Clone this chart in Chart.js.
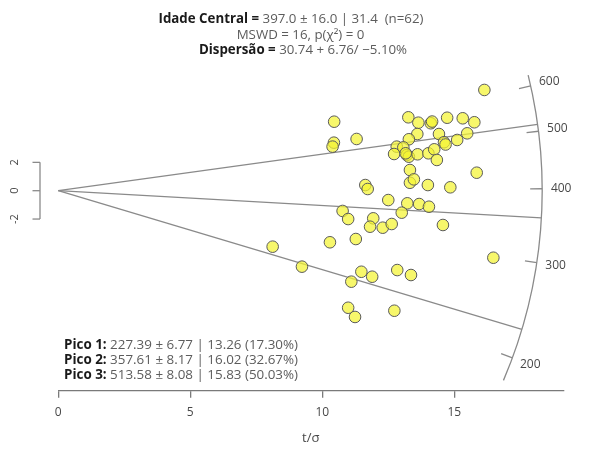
<!DOCTYPE html>
<html lang="pt">
<head>
<meta charset="utf-8">
<script src="https://cdn.jsdelivr.net/npm/chart.js@4.4.1/dist/chart.umd.min.js"></script>
<style>
  body { margin: 0; background: #fff; }
</style>
</head>
<body>
<canvas id="radial" width="590" height="450"></canvas>
<script>
// Valores lidos do gráfico radial (t/σ no eixo x, estimativa padronizada no eixo y)
const idadeCentral = 397.0;
const picos = [227.39, 357.61, 513.58];

const tSigma = [
  16.14, 10.45, 13.26, 13.64, 14.11, 14.16, 14.73, 15.32, 15.76, 11.30,
  10.44, 10.39, 13.60, 14.42, 13.28, 14.61, 14.67, 15.49, 15.11, 12.82,
  13.07, 12.72, 13.20, 13.28, 13.61, 14.02, 14.24, 14.34, 13.32, 13.32,
  13.47, 14.00, 14.85, 15.85, 11.63, 11.72, 12.50, 13.22, 13.67, 14.04,
  13.01, 10.77, 10.98, 11.93, 11.81, 12.29, 12.63, 14.57, 10.29, 11.27,
  8.12, 16.48, 9.23, 11.48, 11.89, 11.10, 12.84, 13.36, 10.98, 11.24,
  12.73, 13.16
];
const zPadrao = [
  7.11, 4.87, 5.18, 4.80, 4.76, 4.88, 5.15, 5.11, 4.83, 3.65,
  3.39, 3.11, 4.00, 4.00, 3.63, 3.42, 3.26, 4.05, 3.58, 3.11,
  3.06, 2.59, 2.52, 2.40, 2.57, 2.64, 2.92, 2.17, 1.46, 0.56,
  0.80, 0.40, 0.24, 1.27, 0.40, 0.12, -0.66, -0.89, -0.94, -1.13,
  -1.55, -1.43, -2.00, -1.95, -2.54, -2.61, -2.35, -2.42, -3.64, -3.41,
  -3.95, -4.73, -5.36, -5.72, -6.07, -6.42, -5.60, -5.95, -8.26, -8.91,
  -8.47, 2.64
];

const ticksX = [0, 5, 10, 15];
const ticksY = [-2, 0, 2];
const ticksArco = [200, 300, 400, 500, 600];
const limitesArco = [179.5, 628];
const raioArco = 18.33; // em unidades de t/σ

const titulo = [
  [['Idade Central = ', true], ['397.0 ± 16.0 | 31.4  (n=62)', false]],
  [['MSWD = 16, p(χ²) = 0', false]],
  [['Dispersão = ', true], ['30.74 + 6.76/ −5.10%', false]]
];
const legendaPicos = [
  [['Pico 1: ', true], ['227.39 ± 6.77 | 13.26 (17.30%)', false]],
  [['Pico 2: ', true], ['357.61 ± 8.17 | 16.02 (32.67%)', false]],
  [['Pico 3: ', true], ['513.58 ± 8.08 | 15.83 (50.03%)', false]]
];

const fonte = '"Open Sans", "DejaVu Sans", sans-serif';

// escreve uma linha com trechos em negrito e normal
const escreverLinha = (ctx, partes, x, y, alinhamento, tamanho) => {
  let largura = 0;
  partes.forEach(([txt, negrito]) => {
    ctx.font = (negrito ? 'bold ' : '') + tamanho + 'px ' + fonte;
    largura += ctx.measureText(txt).width;
  });
  let cx = alinhamento === 'center' ? x - largura / 2 : x;
  ctx.textAlign = 'left';
  ctx.textBaseline = 'middle';
  partes.forEach(([txt, negrito]) => {
    ctx.font = (negrito ? 'bold ' : '') + tamanho + 'px ' + fonte;
    ctx.fillStyle = negrito ? '#1a1a1a' : '#5c5c5c';
    ctx.fillText(txt, cx, y);
    cx += ctx.measureText(txt).width;
  });
};

const radialPlugin = {
  id: 'radial',
  beforeDatasetsDraw(chart) {
    const { ctx, chartArea, scales: { x, y } } = chart;
    const ox = x.getPixelForValue(0);
    const oy = y.getPixelForValue(0);
    const kx = x.getPixelForValue(1) - ox;
    const ky = oy - y.getPixelForValue(1);
    const R = raioArco * kx;
    const angulo = (t) => -Math.atan(Math.log(t / idadeCentral) * ky / kx);

    ctx.save();
    ctx.strokeStyle = '#8a8a8a';
    ctx.lineWidth = 1.3;

    // linhas dos picos
    picos.forEach((t) => {
      const a = angulo(t);
      ctx.beginPath();
      ctx.moveTo(ox, oy);
      ctx.lineTo(ox + R * Math.cos(a), oy + R * Math.sin(a));
      ctx.stroke();
    });

    // arco das idades
    ctx.beginPath();
    ctx.arc(ox, oy, R, angulo(limitesArco[1]), angulo(limitesArco[0]));
    ctx.stroke();

    ctx.font = '12px ' + fonte;
    ctx.fillStyle = '#484848';
    ctx.textAlign = 'center';
    ctx.textBaseline = 'middle';
    ticksArco.forEach((t) => {
      const a = angulo(t);
      const c = Math.cos(a), s = Math.sin(a);
      ctx.beginPath();
      ctx.moveTo(ox + (R - 12) * c, oy + (R - 12) * s);
      ctx.lineTo(ox + R * c, oy + R * s);
      ctx.stroke();
      ctx.fillText(String(t), ox + (R + 19) * c, oy + (R + 19) * s);
    });

    // eixo y curto (-2 a 2)
    const bx = chartArea.left - 18.3;
    const yTopo = y.getPixelForValue(ticksY[ticksY.length - 1]);
    const yBase = y.getPixelForValue(ticksY[0]);
    ctx.beginPath();
    ctx.moveTo(bx, yTopo);
    ctx.lineTo(bx, yBase);
    ctx.stroke();
    ctx.font = '11px ' + fonte;
    ticksY.forEach((v) => {
      const py = y.getPixelForValue(v);
      ctx.beginPath();
      ctx.moveTo(bx - 7.5, py);
      ctx.lineTo(bx, py);
      ctx.stroke();
      ctx.save();
      ctx.translate(bx - 25, py);
      ctx.rotate(-Math.PI / 2);
      ctx.fillText(String(v), 0, 0);
      ctx.restore();
    });
    ctx.restore();
  },
  afterDraw(chart) {
    const { ctx } = chart;
    ctx.save();
    escreverLinha(ctx, titulo[0], 291, 19.5, 'center', 13.3);
    escreverLinha(ctx, titulo[1], 300.5, 35, 'center', 13.3);
    escreverLinha(ctx, titulo[2], 303, 50, 'center', 13.3);
    legendaPicos.forEach((linha, i) => {
      escreverLinha(ctx, linha, 64, 345 + i * 15.3, 'left', 13.4);
    });
    ctx.restore();
  }
};

const ctxRadial = document.getElementById('radial').getContext('2d');
const graficoRadial = new Chart(ctxRadial, {
  type: 'scatter',
  data: {
    datasets: [{
      data: tSigma.map((v, i) => ({ x: v, y: zPadrao[i] })),
      backgroundColor: 'rgba(244, 244, 50, 0.72)',
      borderColor: '#5a5a5a',
      borderWidth: 1,
      pointRadius: 5.8
    }]
  },
  options: {
    responsive: false,
    animation: false,
    layout: { padding: { left: 58.3, right: 26.7, top: 60, bottom: 0 } },
    plugins: {
      legend: { display: false },
      tooltip: { enabled: false }
    },
    scales: {
      x: {
        type: 'linear',
        min: 0,
        max: 19.13,
        afterBuildTicks: (s) => { s.ticks = ticksX.map((v) => ({ value: v })); },
        afterFit: (s) => { s.height = 59.3; },
        border: { display: true, color: '#7a7a7a', width: 1.3 },
        grid: { drawOnChartArea: false, drawTicks: true, tickLength: 7, color: '#7a7a7a', lineWidth: 1.3 },
        ticks: { font: { family: fonte, size: 12 }, color: '#484848', padding: 8 },
        title: {
          display: true,
          text: 't/σ',
          font: { family: fonte, size: 13 },
          color: '#484848',
          padding: { top: 4, bottom: 4 }
        }
      },
      y: {
        type: 'linear',
        min: -14.114,
        max: 9.224,
        display: false
      }
    }
  },
  plugins: [radialPlugin]
});
</script>
</body>
</html>
